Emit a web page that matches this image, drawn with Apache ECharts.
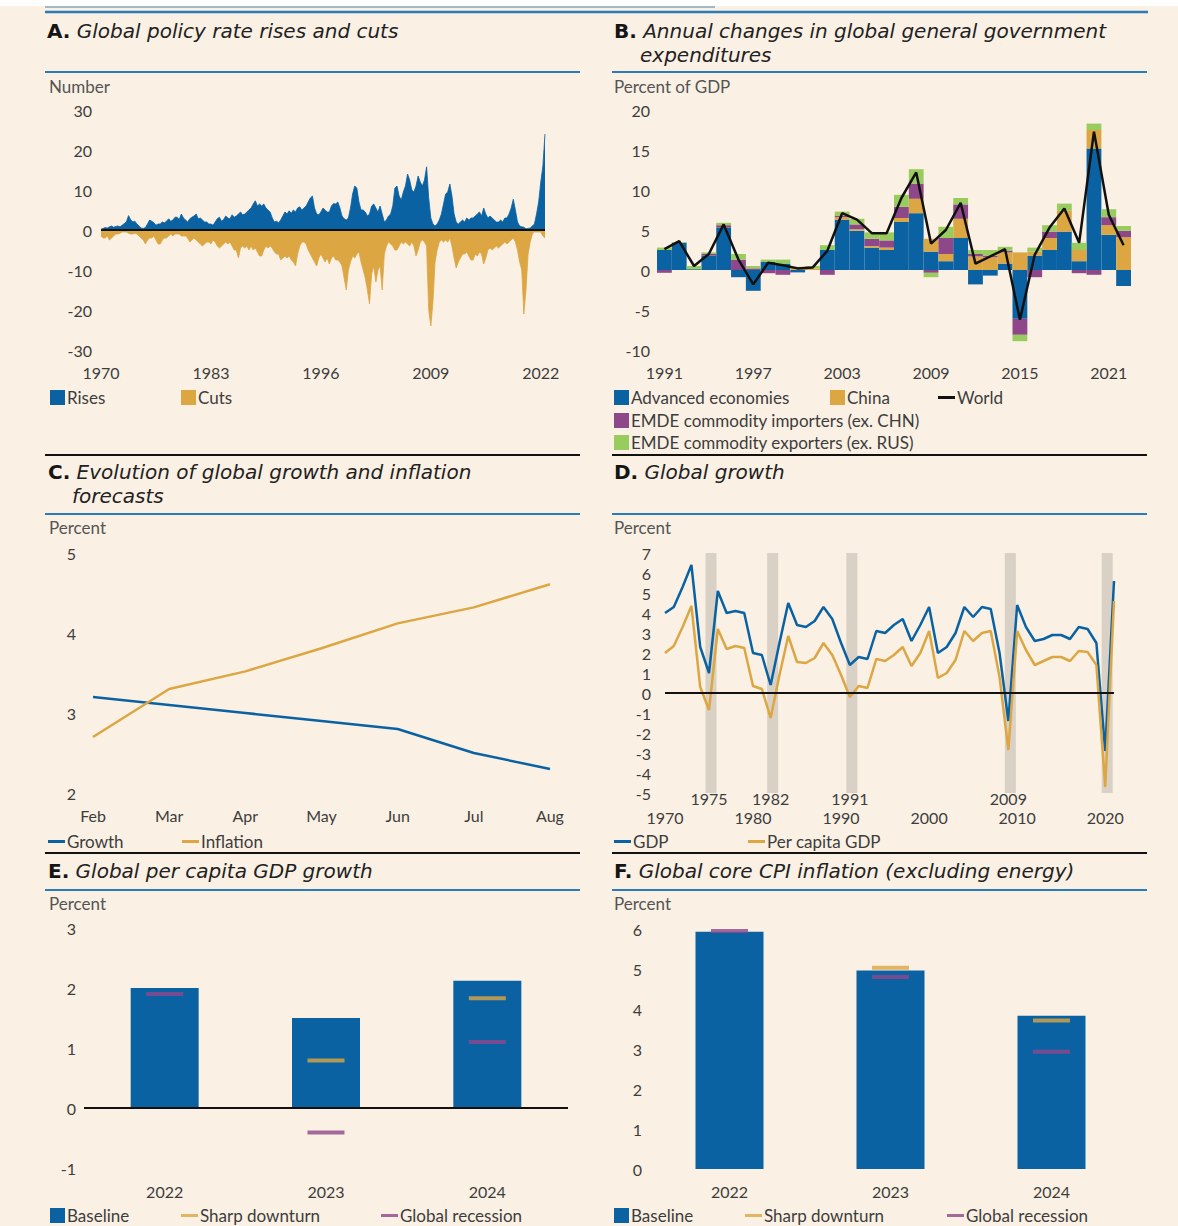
<!DOCTYPE html>
<html><head><meta charset="utf-8">
<script src="https://cdn.jsdelivr.net/npm/echarts@6/dist/echarts.min.js"></script>
<style>html,body{margin:0;padding:0;background:#FAF0E4;}#c{width:1178px;height:1226px;}</style>
</head><body><div id="c"></div>
<script>
// ---------- Panel A: quarterly counts of policy rate rises and cuts (from 1970Q1) ----------
const A_startYear = 1970;
const A_tickYears = [1970, 1983, 1996, 2009, 2022];
const A_rises = [
0.2,0.4,0.6,0.5, 0.8,1.0,0.7,0.9, 1.0,0.8,1.2,1.6, 2.0,3.6,2.6,2.0, 2.2,1.5,1.0,0.5,
0.4,0.6,1.5,2.5, 2.2,1.8,1.2,1.5, 1.5,2.0,1.8,2.2, 2.8,2.2,2.5,3.2, 3.2,2.6,4.0,3.0,
2.5,2.0,2.8,3.2, 3.5,4.0,2.8,3.0, 2.5,2.0,2.0,1.5, 1.5,1.2,2.0,2.8, 3.2,2.2,2.6,3.5,
3.0,2.8,3.8,3.2, 3.5,4.0,4.5,3.8, 4.0,4.5,5.0,5.5, 6.5,7.3,6.0,6.5, 6.0,6.5,5.5,5.0,
4.5,3.0,2.0,2.2, 1.8,2.5,3.5,4.5, 4.0,4.8,4.2,5.0, 4.5,5.5,5.8,5.0, 5.5,6.0,7.0,8.0,
8.5,5.5,4.0,3.8, 4.5,5.5,5.0,4.5, 4.5,6.0,6.6,6.5, 7.0,5.5,3.5,2.8, 2.5,3.0,5.5,9.0,
11.0,10.5,7.0,5.0, 5.0,4.5,3.5,4.0, 6.0,6.5,5.5,4.5, 6.0,4.0,2.0,2.5, 3.5,4.0,6.0,10.5,
11.0,8.5,7.5,9.5, 11.0,14.0,12.5,10.0, 9.5,11.0,13.5,12.0, 11.0,12.5,15.8,8.0, 3.0,1.5,1.0,1.5,
2.5,4.0,6.5,9.0, 9.5,11.5,8.5,4.0, 2.0,1.5,2.0,2.5, 2.0,3.0,2.5,3.0, 3.0,3.5,4.0,4.5,
3.5,5.5,4.0,3.0, 3.5,3.0,2.5,2.0, 2.0,2.5,2.0,3.0, 3.0,4.0,5.5,7.7, 5.0,2.0,1.0,0.8,
0.7,0.3,0.4,0.5, 1.0,1.5,4.0,7.0, 12.0,16.0,24.0
];
const A_cuts = [
-1.5,-2.0,-2.0,-1.5, -2.5,-2.0,-1.5,-1.0, -1.0,-0.8,-0.5,-0.5, -0.5,-0.8,-1.0,-1.0, -0.8,-1.0,-1.5,-2.0,
-2.5,-3.5,-2.5,-2.0, -2.0,-1.5,-2.5,-3.5, -3.5,-2.5,-2.0,-2.0, -1.5,-1.0,-1.5,-1.0, -1.0,-1.0,-1.5,-1.5,
-1.5,-2.0,-3.0,-2.5, -2.0,-2.5,-3.0,-3.5, -4.0,-3.5,-3.0,-3.0, -3.5,-2.5,-3.0,-4.0, -4.5,-4.0,-3.5,-3.0,
-3.5,-3.0,-4.0,-5.0, -5.0,-7.0,-4.5,-4.0, -4.5,-4.0,-5.0,-4.0, -5.0,-4.5,-5.5,-6.5, -6.5,-5.0,-4.0,-4.5,
-4.0,-4.5,-5.5,-6.0, -6.0,-7.5,-7.0,-6.5, -7.0,-6.5,-7.5,-8.0, -9.0,-6.0,-4.0,-3.0, -3.0,-3.5,-5.0,-6.0,
-7.0,-8.0,-9.0,-7.0, -6.0,-7.0,-8.0,-7.0, -8.5,-7.0,-6.5,-7.5, -7.5,-8.0,-9.0,-12.0, -15.0,-10.0,-8.0,-6.5,
-7.0,-6.0,-5.5,-8.0, -10.0,-12.0,-15.0,-18.5, -11.0,-9.0,-13.0,-10.0, -9.0,-15.0,-6.0,-4.0, -3.0,-3.5,-4.0,-5.0,
-5.0,-4.0,-3.0,-3.5, -3.0,-3.5,-4.0,-3.0, -4.0,-6.5,-5.0,-3.0, -2.5,-3.0,-4.0,-20.0, -24.0,-18.0,-8.0,-5.0,
-3.0,-2.5,-3.0,-2.5, -3.0,-2.0,-4.0,-7.0, -9.5,-8.0,-7.0,-6.0, -6.0,-5.5,-6.5,-7.5, -7.5,-6.0,-6.5,-5.5,
-6.0,-8.5,-7.0,-5.0, -4.5,-5.0,-4.5,-4.0, -4.5,-4.0,-3.5,-3.0, -3.5,-3.0,-2.5,-2.0, -3.0,-5.0,-8.0,-10.0,
-21.0,-15.0,-6.0,-3.0, -1.0,-0.5,-0.5,-0.5, -0.5,-1.5,-2.0
];

// ---------- Panel B: annual changes in government expenditures, 1991-2022 ----------
const B_years = ['1991','1992','1993','1994','1995','1996','1997','1998','1999','2000','2001','2002','2003','2004','2005','2006',
                 '2007','2008','2009','2010','2011','2012','2013','2014','2015','2016','2017','2018','2019','2020','2021','2022'];
const B_adv   = [2.5,3.4,0.1,1.8,5.3,-0.9,-2.6,1.0,0.8,-0.3,0.0,2.5,6.3,4.9,2.8,2.5,6.0,7.1,2.3,1.1,4.0,-1.8,-0.7,0.8,-6.1,1.8,2.5,4.8,1.1,15.2,4.4,-2.0];
const B_china = [0,0,0,0,0,0,0,0,0,0.3,0.2,0,0.3,0.2,0.2,0.3,0.5,1.8,1.6,0.9,2.4,1.7,1.6,1.4,2.2,0.5,1.5,2.6,1.4,2.3,1.2,4.1];
const B_imp   = [-0.35,0,0,0.2,0.3,1.3,0.2,-0.4,-0.6,0,0,-0.6,0.2,0.6,0.9,0.9,1.4,1.9,-0.35,2.0,1.8,0.3,0.2,0.2,-2.0,-0.9,0.8,0,-0.4,-0.6,1.0,0.8];
const B_exp   = [0.3,0.1,0.4,0.2,0.3,0.7,0.3,0.3,0.5,0.1,0.3,0.6,0.5,0.7,0.8,1.0,1.5,1.8,-0.55,1.4,0.8,0.5,0.7,0.5,-0.8,0.5,0.8,0.9,0.9,0.8,1.0,0.6];
const B_world = [2.6,3.6,0.5,2.0,5.7,1.3,-1.8,0.9,0.6,0.2,0.3,2.4,7.1,6.3,4.6,4.6,9.0,12.2,3.3,5.0,8.4,0.8,1.7,2.6,-6.2,1.9,5.3,7.7,3.4,17.3,6.9,3.1];

// ---------- Panel C: forecasts ----------
const C_months = ['Feb','Mar','Apr','May','Jun','Jul','Aug'];
const C_growth = [3.2,3.1,3.0,2.9,2.8,2.5,2.3];
const C_inflation = [2.7,3.3,3.52,3.81,4.12,4.32,4.61];

// ---------- Panel D: global growth 1970-2021 ----------
const D_firstYear = 1970, D_lastYear = 2021;
const D_gdp = [4.0,4.3,5.3,6.4,2.3,1.0,5.1,4.0,4.1,4.0, 2.0,1.9,0.4,2.5,4.5,3.4,3.3,3.6,4.3,3.7,
               2.5,1.4,1.8,1.7,3.1,3.0,3.4,3.7,2.6,3.4, 4.3,2.0,2.3,3.0,4.3,3.8,4.3,4.2,2.0,-1.4,
               4.4,3.3,2.6,2.7,2.9,2.9,2.7,3.3,3.2,2.5, -2.9,5.6];
const D_pc  = [2.0,2.35,3.3,4.35,0.3,-0.85,3.2,2.2,2.35,2.25, 0.35,0.2,-1.25,0.9,2.85,1.55,1.5,1.75,2.5,1.9,
               0.9,-0.2,0.35,0.25,1.7,1.6,1.9,2.3,1.35,2.0, 3.1,0.75,1.0,1.65,3.1,2.6,3.0,3.1,0.8,-2.85,
               3.1,2.15,1.4,1.6,1.8,1.8,1.6,2.1,2.05,1.4, -4.7,4.6];
const D_recessions = [1975, 1982, 1991, 2009, 2020];
const D_recLabels = [1975, 1982, 1991, 2009];

// ---------- Panels E and F: scenarios ----------
const EF_years = ['2022','2023','2024'];
const E_base = [2.0,1.5,2.12];
const E_sharp = [null,0.79,1.83];
const E_rec = [1.9,-0.41,1.1];
const F_base = [5.93,4.96,3.83];
const F_sharp = [null,5.03,3.71];
const F_rec = [5.95,4.8,2.93];

// ---------- build ----------
const FONT = 'Lato, "Open Sans", sans-serif';
const TFONT = '"DejaVu Sans", "Open Sans", sans-serif';
const BLUE = '#0a62a3', ORANGE = '#dca643', PURPLE = '#8e4789', GREEN = '#98cc5e', BLACK = '#111', BAND = '#d9d1c6';
const TXT = '#3d3d3d', RULE_BLUE = '#2b7bb9';

const A_cats = [];
for (let i = 0; i < A_rises.length; i++) A_cats.push((A_startYear + Math.floor(i / 4)) + 'Q' + (i % 4 + 1));
const D_years = [];
for (let y = D_firstYear; y <= D_lastYear; y++) D_years.push(y);

const lbl = (o) => Object.assign({color: TXT, fontFamily: FONT, fontSize: 16}, o || {});
const hidden = {axisLine:{show:false}, axisTick:{show:false}, splitLine:{show:false}};
const zeroLine = {silent:true, symbol:'none', label:{show:false}, lineStyle:{color:BLACK, width:2, type:'solid'}, data:[{yAxis:0}]};

const chart = echarts.init(document.getElementById('c'), null, {renderer:'svg', width:1178, height:1226});

const legendItems = [
 ['Rises', 50, 398, 'sq'], ['Cuts', 181, 398, 'sq'],
 ['Advanced economies', 614, 398, 'sq'], ['China', 830, 398, 'sq'], ['World', 938, 398, 'ln'],
 ['EMDE commodity importers (ex. CHN)', 614, 421, 'sq'], ['EMDE commodity exporters (ex. RUS)', 614, 443, 'sq'],
 ['Growth', 48, 842, 'ln'], ['Inflation', 182, 842, 'ln'],
 ['GDP', 614, 842, 'ln'], ['Per capita GDP', 748, 842, 'ln'],
 ['Baseline', 50, 1216, 'sq'], ['Sharp downturn', 181, 1216, 'ln'], ['Global recession', 381, 1216, 'ln'],
 ['Baseline', 614, 1216, 'sq'], ['Sharp downturn', 745, 1216, 'ln'], ['Global recession', 947, 1216, 'ln']
];
const legends = legendItems.map(([name, x, y, kind]) => ({
  data:[name], left:x, top: y - 9, padding:0, itemGap:0, selectedMode:false,
  icon:'rect', itemWidth: kind === 'sq' ? 15 : 17, itemHeight: kind === 'sq' ? 15 : 3,
  textStyle: lbl({fontSize:17, padding:[0,0,0,-3]})
}));

function title(x, y, letter, text) {
  return {type:'text', left:x, top:y - 12, style:{
    text:'{b|' + letter + '}{i| ' + text + '}',
    rich:{ b:{fontFamily:TFONT, fontSize:20, fontWeight:'bold', fill:'#151515'},
           i:{fontFamily:TFONT, fontSize:20, fontStyle:'italic', fill:'#222'} }
  }};
}
function subline(x, y, text) {
  return {type:'text', left:x, top:y - 12, style:{text:text, fontFamily:TFONT, fontSize:20, fontStyle:'italic', fill:'#222'}};
}
function rule(x1, x2, y, color, w) {
  return {type:'line', shape:{x1:x1, y1:y, x2:x2, y2:y}, style:{stroke:color, lineWidth:w || 2}};
}
function unit(x, y, text) {
  return {type:'text', left:x, top:y - 9, style:{text:text, fontFamily:FONT, fontSize:17, fill:'#555'}};
}

const graphic = [
  {type:'rect', shape:{x:0, y:0, width:1178, height:6}, style:{fill:'#ffffff'}},
  rule(45, 715, 7, '#a3b8c7', 2),
  rule(45, 1148, 12, RULE_BLUE, 2.5),
  title(47, 33, 'A.', 'Global policy rate rises and cuts'),
  title(614, 33, 'B.', 'Annual changes in global general government'),
  subline(640, 57, 'expenditures'),
  rule(45, 580, 72, RULE_BLUE), rule(612, 1147, 72, RULE_BLUE),
  unit(49, 87, 'Number'), unit(614, 87, 'Percent of GDP'),
  rule(45, 580, 455, BLACK), rule(612, 1147, 455, BLACK),
  title(48, 474, 'C.', 'Evolution of global growth and inflation'),
  subline(72, 498, 'forecasts'),
  title(614, 474, 'D.', 'Global growth'),
  rule(45, 580, 514, RULE_BLUE), rule(612, 1147, 514, RULE_BLUE),
  unit(49, 528, 'Percent'), unit(614, 528, 'Percent'),
  rule(45, 580, 853, BLACK), rule(612, 1147, 853, BLACK),
  title(48, 873, 'E.', 'Global per capita GDP growth'),
  title(614, 873, 'F.', 'Global core CPI inflation (excluding energy)'),
  rule(45, 580, 890, RULE_BLUE), rule(612, 1147, 890, RULE_BLUE),
  unit(49, 904, 'Percent'), unit(614, 904, 'Percent')
];

const option = {
  animation:false,
  backgroundColor:'#FAF0E4',
  textStyle:{fontFamily:FONT},
  graphic: graphic,
  legend: legends,
  grid:[
    {left:101, top:110, width:444, height:240},
    {left:657, top:110, width:474, height:240},
    {left:93,  top:553, width:457, height:240},
    {left:665, top:553, width:449, height:240},
    {left:84,  top:928, width:484, height:240},
    {left:649, top:929, width:483, height:240}
  ],
  xAxis:[
    Object.assign({gridIndex:0, type:'category', data:A_cats, boundaryGap:false,
      axisLabel: lbl({margin:14, interval:(i, v) => v.endsWith('Q1') && A_tickYears.includes(+v.slice(0,4)), formatter:(v) => v.slice(0,4)})}, hidden),
    Object.assign({gridIndex:1, type:'category', data:B_years, axisLabel: lbl({margin:14, interval:5})}, hidden),
    Object.assign({gridIndex:2, type:'category', data:C_months, boundaryGap:false, axisLabel: lbl({margin:14})}, hidden),
    Object.assign({gridIndex:3, type:'value', position:'bottom', min:D_firstYear, max:D_lastYear, interval:10,
      axisLabel: lbl({margin:16, showMaxLabel:false, formatter:(v) => String(v)})}, hidden),
    Object.assign({gridIndex:3, type:'value', position:'bottom', min:D_firstYear, max:D_lastYear, interval:1,
      axisLabel: lbl({margin:-3, showMinLabel:false, showMaxLabel:false, formatter:(v) => D_recLabels.includes(v) ? String(v) : ''})}, hidden),
    Object.assign({gridIndex:4, type:'category', data:EF_years, axisLabel: lbl({margin:15})}, hidden),
    Object.assign({gridIndex:5, type:'category', data:EF_years, axisLabel: lbl({margin:14})}, hidden)
  ],
  yAxis:[
    Object.assign({gridIndex:0, type:'value', min:-30, max:30, interval:10, axisLabel: lbl({margin:9})}, hidden),
    Object.assign({gridIndex:1, type:'value', min:-10, max:20, interval:5, axisLabel: lbl({margin:7})}, hidden),
    Object.assign({gridIndex:2, type:'value', min:2, max:5, interval:1, axisLabel: lbl({margin:17})}, hidden),
    Object.assign({gridIndex:3, type:'value', min:-5, max:7, interval:1, axisLabel: lbl({margin:14})}, hidden),
    Object.assign({gridIndex:4, type:'value', min:-1, max:3, interval:1, axisLabel: lbl({margin:8})}, hidden),
    Object.assign({gridIndex:5, type:'value', min:0, max:6, interval:1, axisLabel: lbl({margin:7})}, hidden)
  ],
  series:[
    // A
    {name:'Rises', type:'line', xAxisIndex:0, yAxisIndex:0, data:A_rises, symbol:'none',
     itemStyle:{color:BLUE}, lineStyle:{color:BLUE, width:0.8}, areaStyle:{color:BLUE, opacity:1}},
    {name:'Cuts', type:'line', xAxisIndex:0, yAxisIndex:0, data:A_cuts, symbol:'none',
     itemStyle:{color:ORANGE}, lineStyle:{color:ORANGE, width:0.8}, areaStyle:{color:ORANGE, opacity:1}, markLine:zeroLine},
    // B
    {name:'Advanced economies', type:'bar', stack:'B', xAxisIndex:1, yAxisIndex:1, data:B_adv, barCategoryGap:'0%', itemStyle:{color:BLUE}},
    {name:'China', type:'bar', stack:'B', xAxisIndex:1, yAxisIndex:1, data:B_china, barCategoryGap:'0%', itemStyle:{color:ORANGE}},
    {name:'EMDE commodity importers (ex. CHN)', type:'bar', stack:'B', xAxisIndex:1, yAxisIndex:1, data:B_imp, barCategoryGap:'0%', itemStyle:{color:PURPLE}},
    {name:'EMDE commodity exporters (ex. RUS)', type:'bar', stack:'B', xAxisIndex:1, yAxisIndex:1, data:B_exp, barCategoryGap:'0%', itemStyle:{color:GREEN}},
    {name:'World', type:'line', xAxisIndex:1, yAxisIndex:1, data:B_world, symbol:'none', itemStyle:{color:BLACK}, lineStyle:{color:BLACK, width:2.5}},
    // C
    {name:'Growth', type:'line', xAxisIndex:2, yAxisIndex:2, data:C_growth, symbol:'none', itemStyle:{color:BLUE}, lineStyle:{color:BLUE, width:2.5}},
    {name:'Inflation', type:'line', xAxisIndex:2, yAxisIndex:2, data:C_inflation, symbol:'none', itemStyle:{color:ORANGE}, lineStyle:{color:ORANGE, width:2.5}},
    // D
    {name:'GDP', type:'line', xAxisIndex:3, yAxisIndex:3, data:D_years.map((y, i) => [y, D_gdp[i]]), symbol:'none',
     itemStyle:{color:BLUE}, lineStyle:{color:BLUE, width:2.5},
     markArea:{silent:true, itemStyle:{color:BAND}, data:D_recessions.map((y) => [{xAxis:y - 0.4}, {xAxis:y + 0.85}])}},
    {name:'Per capita GDP', type:'line', xAxisIndex:3, yAxisIndex:3, data:D_years.map((y, i) => [y, D_pc[i]]), symbol:'none',
     itemStyle:{color:ORANGE}, lineStyle:{color:ORANGE, width:2.5}, markLine:zeroLine},
    // E
    {name:'Baseline', type:'bar', xAxisIndex:5, yAxisIndex:4, data:E_base, barWidth:68, itemStyle:{color:BLUE}, markLine:zeroLine},
    {name:'Sharp downturn', type:'scatter', xAxisIndex:5, yAxisIndex:4, data:E_sharp, symbol:'rect', symbolSize:[37,4], itemStyle:{color:ORANGE}, z:5},
    {name:'Global recession', type:'scatter', xAxisIndex:5, yAxisIndex:4, data:E_rec, symbol:'rect', symbolSize:[37,4], itemStyle:{color:PURPLE}, z:5},
    // F
    {name:'Baseline', type:'bar', xAxisIndex:6, yAxisIndex:5, data:F_base, barWidth:68, itemStyle:{color:BLUE}},
    {name:'Sharp downturn', type:'scatter', xAxisIndex:6, yAxisIndex:5, data:F_sharp, symbol:'rect', symbolSize:[37,4], itemStyle:{color:ORANGE}, z:5},
    {name:'Global recession', type:'scatter', xAxisIndex:6, yAxisIndex:5, data:F_rec, symbol:'rect', symbolSize:[37,4], itemStyle:{color:PURPLE}, z:5}
  ]
};
chart.setOption(option);
</script></body></html>
